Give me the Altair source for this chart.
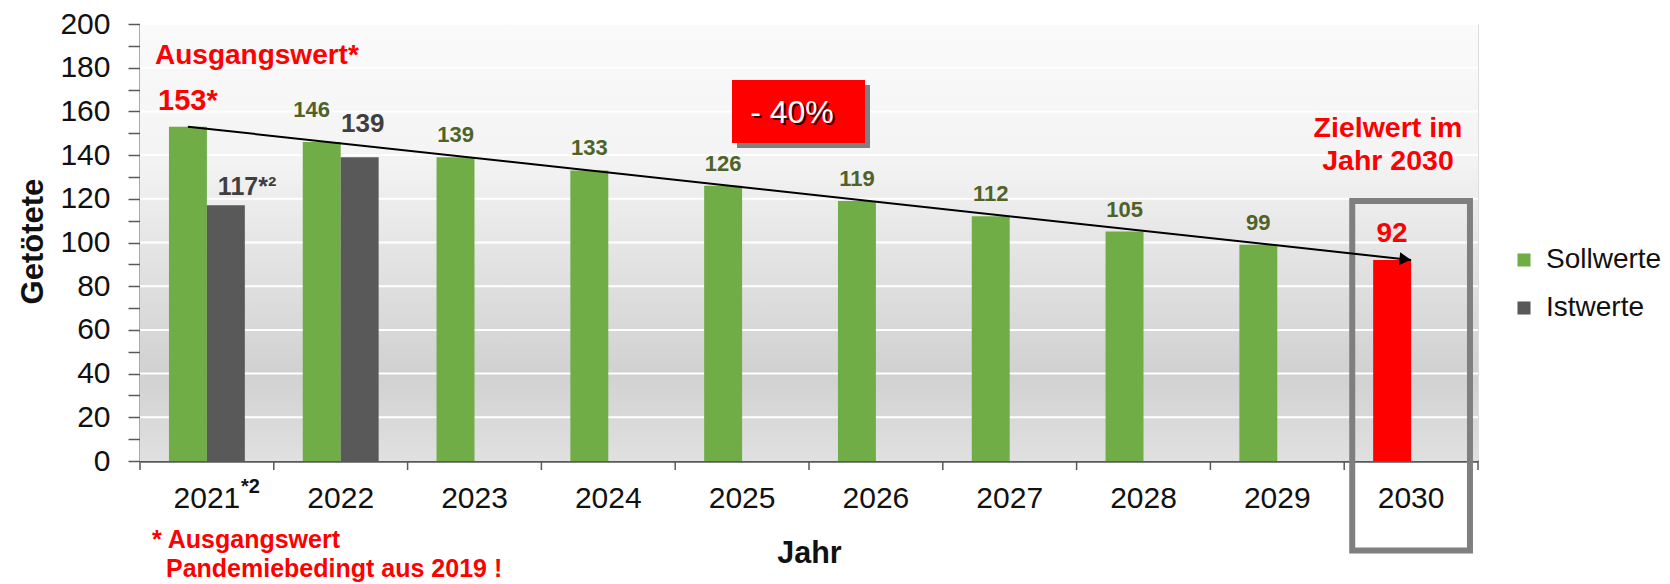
import altair as alt
import pandas as pd

# ---------------- data ----------------
years = ["2021", "2022", "2023", "2024", "2025", "2026", "2027", "2028", "2029", "2030"]
soll = [153, 146, 139, 133, 126, 119, 112, 105, 99, 92]
ist_years = ["2021", "2022"]
ist = [117, 139]
series_names = ["Sollwerte", "Istwerte"]
target_year = "2030"
y_ticks = [0, 10, 20, 30, 40, 50, 60, 70, 80, 90, 100, 110, 120, 130, 140, 150, 160, 170, 180, 190, 200]
grid_vals = [20, 40, 60, 80, 100, 120, 140, 160, 180, 200]
arrow_from = ("2021", 153)
arrow_to = ("2030", 92)
box_top, box_bottom = 119, -41

# ---------------- style ----------------
W, H = 1338, 437
FONT = "Liberation Sans"
GREEN = "#70ad47"
GREY = "#595959"
RED = "#ff0000"
OLIVE = "#4f6228"
DARK = "#3f3f3f"
TXT = "#111111"

rows = []
for yr, v in zip(years, soll):
    rows.append({"year": yr, "series": "Sollwerte", "value": v,
                 "kind": "Ziel" if yr == target_year else "Sollwerte"})
for yr, v in zip(ist_years, ist):
    rows.append({"year": yr, "series": "Istwerte", "value": v, "kind": "Istwerte"})
df = pd.DataFrame(rows)

OUTER = 0.763
xs = alt.Scale(domain=years, paddingInner=0, paddingOuter=0)
xos = alt.Scale(domain=series_names, paddingInner=0, paddingOuter=OUTER)
ys = alt.Scale(domain=[0, 200], nice=False, zero=True)

xax = alt.Axis(title="Jahr", ticks=False, tickSize=0, labelFontSize=30, labelFont=FONT,
               labelColor=TXT, labelPadding=46, labelBaseline="alphabetic", labelAngle=0,
               domainColor=GREY, domainWidth=2.5, grid=False,
               titleFont=FONT, titleFontSize=30.5, titleFontWeight="bold", titleColor=TXT,
               titleY=101, titleBaseline="alphabetic")
yax = alt.Axis(title="Getötete", values=y_ticks,
               labelExpr="datum.value % 20 == 0 ? datum.label : ''", labelOverlap=False,
               tickSize=12, tickColor=GREY, tickWidth=1.5, labelFontSize=30, labelFont=FONT,
               labelColor=TXT, labelPadding=18, domainColor=GREY, domainWidth=2, grid=False,
               titleFont=FONT, titleFontSize=31, titleFontWeight="bold", titleColor=TXT,
               titleX=-98, titleY=217, titleBaseline="alphabetic", titleAlign="center")

X = alt.X("year:N", scale=xs, axis=xax)
XO = alt.XOffset("series:N", scale=xos)
one = pd.DataFrame({"a": [0]})

# background gradient
bg = alt.Chart(one).mark_rect(
    color=alt.LinearGradient(
        gradient="linear", x1=0, x2=0, y1=0, y2=1,
        stops=[alt.GradientStop(color="#fafafa", offset=0),
               alt.GradientStop(color="#f4f4f4", offset=0.3),
               alt.GradientStop(color="#e2e2e2", offset=0.55),
               alt.GradientStop(color="#d1d1d1", offset=0.8),
               alt.GradientStop(color="#e0e0e0", offset=1)])
).encode(x=alt.value(0), x2=alt.value(W), y=alt.value(0), y2=alt.value(H))

grid = alt.Chart(pd.DataFrame({"value": grid_vals})).mark_rule(color="white", strokeWidth=2).encode(
    y=alt.Y("value:Q", scale=ys, axis=yax), x=alt.value(0), x2=alt.value(W))

bars = alt.Chart(df).mark_bar().encode(
    x=X, xOffset=XO,
    y=alt.Y("value:Q", scale=ys, axis=yax),
    color=alt.Color("kind:N",
                    scale=alt.Scale(domain=["Sollwerte", "Istwerte", "Ziel"], range=[GREEN, GREY, RED]),
                    legend=alt.Legend(values=["Sollwerte", "Istwerte"], title=None, orient="none",
                                      legendX=1370, legendY=222, symbolType="square", symbolSize=170,
                                      symbolStrokeWidth=0, labelFontSize=28, labelFont=FONT,
                                      labelColor=TXT, rowPadding=20, labelOffset=8, padding=0)))

# x ticks at category boundaries
xticks = alt.Chart(pd.DataFrame({"year": years})).mark_rule(color=GREY, strokeWidth=1.5).encode(
    x=alt.X("year:N", scale=xs, axis=xax, bandPosition=0), y=alt.value(H), y2=alt.value(H + 9))
xtick_end = alt.Chart(one).mark_rule(color=GREY, strokeWidth=1.5).encode(
    x=alt.value(W), y=alt.value(H), y2=alt.value(H + 9))

box = alt.Chart(pd.DataFrame({"year": [target_year], "top": [box_top], "bottom": [box_bottom]})).mark_bar(
    fillOpacity=0, stroke="#7f7f7f", strokeWidth=6, width=alt.RelativeBandSize(0.88)
).encode(x=X, y=alt.Y("top:Q", scale=ys, axis=yax), y2="bottom:Q")


def lbl(flt, text_expr, color, size, dy, dx=0, align="center"):
    return alt.Chart(df).transform_filter(flt).transform_calculate(label=text_expr).mark_text(
        color=color, fontSize=size, font=FONT, fontWeight="bold", dy=dy, dx=dx, align=align,
        baseline="alphabetic"
    ).encode(x=X, xOffset=XO, y=alt.Y("value:Q", scale=ys, axis=yax), text="label:N")


labels = [
    lbl("datum.series == 'Sollwerte' && datum.year != '2021' && datum.year != '2022' && datum.year != '2030'",
        "'' + datum.value", OLIVE, 22, -15),
    lbl("datum.series == 'Sollwerte' && datum.year == '2022'", "'' + datum.value", OLIVE, 22, -25, -10),
    lbl("datum.series == 'Sollwerte' && datum.year == '2021'", "datum.value + '*'", RED, 29, -17),
    lbl("datum.series == 'Sollwerte' && datum.year == '2030'", "'' + datum.value", RED, 28, -18),
    lbl("datum.series == 'Istwerte' && datum.year == '2021'", "datum.value + '*²'", DARK, 25, -10, -8, "left"),
    lbl("datum.series == 'Istwerte' && datum.year == '2022'", "'' + datum.value", DARK, 26, -25, 3),
]


def note(text, x, y, color, size, weight="bold", align="left"):
    return alt.Chart(one).mark_text(text=text, color=color, fontSize=size, font=FONT, fontWeight=weight,
                                    align=align, baseline="alphabetic").encode(x=alt.value(x), y=alt.value(y))


notes = [
    note("Ausgangswert*", 15, 40, RED, 28),
    note("* Ausgangswert", 12, 524, RED, 25),
    note("Pandemiebedingt aus 2019 !", 26, 553, RED, 25),
    note("*2", 101, 469, TXT, 20),
    note("Zielwert im", 1248, 113, RED, 28.5, align="center"),
    note("Jahr 2030", 1248, 146, RED, 28.5, align="center"),
]

shadow = alt.Chart(one).mark_rect(color="#7f7f7f").encode(
    x=alt.value(597), x2=alt.value(730), y=alt.value(61), y2=alt.value(124))
redbox = alt.Chart(one).mark_rect(color=RED).encode(
    x=alt.value(592), x2=alt.value(725), y=alt.value(56), y2=alt.value(119))
pct_shadow = note("- 40%", 654, 101, "#3a0000", 32, weight="normal", align="center")
pct = note("- 40%", 652, 99, "white", 32, weight="normal", align="center")

main = alt.layer(bg, grid, bars, xticks, xtick_end, box, *labels, *notes, shadow, redbox, pct_shadow, pct)

# arrow
center_frac = (OUTER + 0.5) / (2 + 2 * OUTER)
arrow_df = pd.DataFrame({
    "xq": [years.index(arrow_from[0]) + center_frac, years.index(arrow_to[0]) + 0.5],
    "value": [arrow_from[1], arrow_to[1]],
})
xq = alt.Scale(domain=[0, len(years)], nice=False, zero=False)
line = alt.Chart(arrow_df).mark_line(color="black", strokeWidth=2).encode(
    x=alt.X("xq:Q", scale=xq, axis=None), y=alt.Y("value:Q", scale=ys, axis=yax))
head = alt.Chart(arrow_df.iloc[[1]]).mark_point(
    shape="triangle-right", filled=True, color="black", size=170, angle=6, xOffset=-6, yOffset=-0.7,
    opacity=1).encode(x=alt.X("xq:Q", scale=xq, axis=None), y=alt.Y("value:Q", scale=ys, axis=yax))

chart = alt.layer(main, line, head).resolve_scale(x="independent").properties(
    width=W, height=H,
    padding={"left": 132, "top": 16, "right": 184, "bottom": 123},
    autosize=alt.AutoSizeParams(type="none"),
    background="white",
).configure_view(strokeWidth=0).configure(font=FONT)

chart.save("out.html", embed_options={"renderer": "svg", "actions": False})
